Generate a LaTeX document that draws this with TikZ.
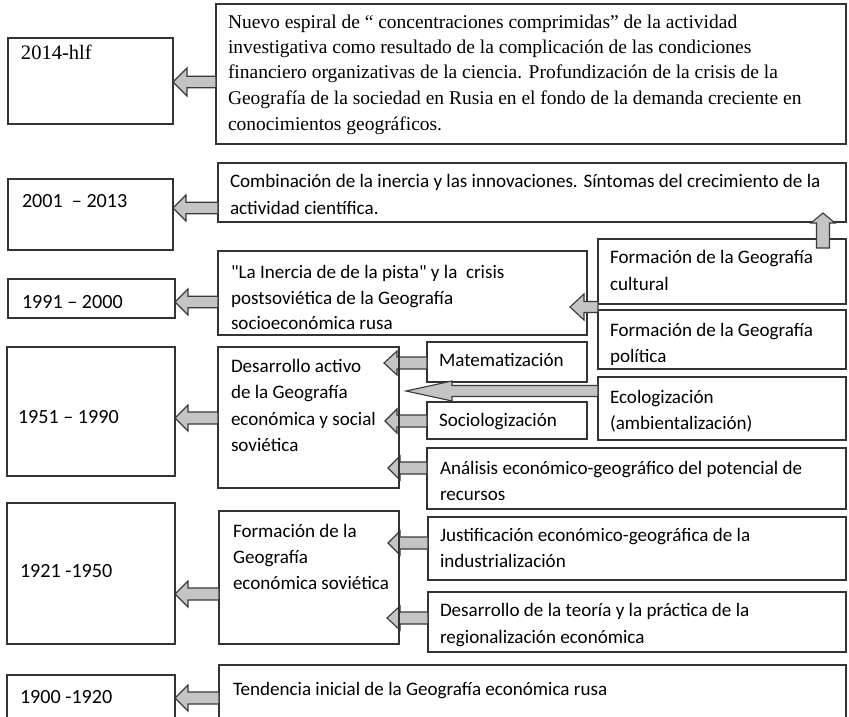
\documentclass[tikz,border=0pt]{standalone}
\usepackage{fontspec}
\setmainfont{Liberation Serif}
\newfontfamily\calfont{Carlito}
\usetikzlibrary{calc}
\definecolor{ln}{HTML}{333333}
\definecolor{af}{HTML}{C4C4C4}
\definecolor{al}{HTML}{3A3A3A}
\tikzset{
  box/.style={draw=ln, line width=0.9pt, inner sep=0pt, outer sep=0pt, fill=white},
  txt/.style={anchor=base west, inner sep=0pt, outer sep=0pt, text=black, font=\calfont\fontsize{14.3}{17}\selectfont},
  txty/.style={anchor=base west, inner sep=0pt, outer sep=0pt, text=black, font=\calfont\fontsize{15.1}{18}\selectfont},
  txtr/.style={anchor=base west, inner sep=0pt, outer sep=0pt, text=black, font=\fontsize{14.6}{17}\selectfont},
  barrow/.style={draw=al, fill=af, line width=0.85pt, line join=miter},
  edge/.style={draw=ln, line width=0.9pt}
}
\newcommand{\bx}[5]{\node[box, minimum width={(#4-#2)*0.75pt}, minimum height={(#5-#3)*0.75pt}] (#1) at ({(#2+#4)/2},{(#3+#5)/2}) {};}
\newcommand{\tl}[4]{\node[txt] (#1) at (#2,#3) {#4};}
\newcommand{\ty}[4]{\node[txty] (#1) at (#2,#3) {#4};}
\newcommand{\tr}[4]{\node[txtr] (#1) at (#2,#3) {#4};}
% left arrow: tip x from node #1, tail x from node #2, y in px #3, head length #4, head half #5, shaft half #6 ; tip offset #7 px
\newcommand{\larr}[7]{%
\draw[barrow] let \p1=(#1), \p2=(#2), \p3=(0,#3) in
 (\x1-#7*0.75pt,\y3) -- (\x1-#7*0.75pt+#4*0.75pt,\y3+#5*0.75pt) -- (\x1-#7*0.75pt+#4*0.75pt,\y3+#6*0.75pt)
 -- (\x2,\y3+#6*0.75pt) -- (\x2,\y3-#6*0.75pt) -- (\x1-#7*0.75pt+#4*0.75pt,\y3-#6*0.75pt)
 -- (\x1-#7*0.75pt+#4*0.75pt,\y3-#5*0.75pt) -- cycle;}
\begin{document}
\begin{tikzpicture}[x=0.75pt,y=-0.75pt]
\useasboundingbox (0,0) rectangle (849,717);
\clip (0,0) rectangle (849,717);
% boxes
\bx{y2014}{8}{38}{173}{124}
\bx{top}{216}{4}{846}{144}
\bx{y2001}{8}{179}{173}{250}
\bx{comb}{218}{163}{846}{222}
\bx{y1991}{8}{279}{175}{318}
\bx{iner}{218}{251}{587}{335}
\bx{cult}{598}{239}{846}{304}
\bx{pol}{598}{310}{846}{369}
\bx{eco}{598}{377}{846}{440}
\bx{mat}{427}{342}{587}{382}
\bx{soc}{427}{402}{587}{439}
\bx{y1951}{7}{347}{175}{476}
\bx{desa}{218}{347}{399}{488}
\bx{anal}{427}{448}{846}{509}
\bx{y1921}{7}{503}{175}{644}
\bx{sov}{219}{511}{399}{644}
\bx{just}{428}{517}{846}{580}
\bx{teor}{428}{592}{846}{652}
\bx{y1900}{7}{675}{175}{740}
\bx{tend}{219}{665}{846}{740}
% texts
\node[txtr, font=\fontsize{15.4}{18}\selectfont] (t2014) at (21,60) {2014-hlf};
\tr{top1}{228}{29}{Nuevo espiral de “ concentraciones comprimidas” de la actividad}
\tr{top2}{228}{54}{investigativa como resultado de la complicación de las condiciones}
\tr{top3}{228}{79}{financiero organizativas de la ciencia. Profundización de la crisis de la}
\tr{top4}{228}{104}{Geografía de la sociedad en Rusia en el fondo de la demanda creciente en}
\tr{top5}{228}{130}{conocimientos geográficos.}
\ty{t2001}{22}{207}{2001\ \ – 2013}
\tl{comb1}{230}{187}{Combinación de la inercia y las innovaciones. Síntomas del crecimiento de la}
\tl{comb2}{230}{214}{actividad científica.}
\ty{t1991}{22}{308}{1991 – 2000}
\tl{iner1}{231}{278}{"La Inercia de de la pista" y la\ \ crisis}
\tl{iner2}{231}{304}{postsoviética de la Geografía}
\tl{iner3}{231}{329}{socioeconómica rusa}
\tl{cult1}{610}{263}{Formación de la Geografía}
\tl{cult2}{610}{290}{cultural}
\tl{pol1}{610}{336}{Formación de la Geografía}
\tl{pol2}{610}{362}{política}
\tl{eco1}{610}{403}{Ecologización}
\tl{eco2}{610}{429}{(ambientalización)}
\tl{mat1}{439}{366}{Matematización}
\tl{soc1}{439}{426}{Sociologización}
\ty{t1951}{18}{423}{1951 – 1990}
\tl{desa1}{231}{372}{Desarrollo activo}
\tl{desa2}{231}{398}{de la Geografía}
\tl{desa3}{231}{425}{económica y social}
\tl{desa4}{231}{451}{soviética}
\tl{anal1}{440}{474}{Análisis económico-geográfico del potencial de}
\tl{anal2}{440}{500}{recursos}
\ty{t1921}{20}{577}{1921 -1950}
\tl{sov1}{233}{537}{Formación de la}
\tl{sov2}{233}{563}{Geografía}
\tl{sov3}{233}{589}{económica soviética}
\tl{just1}{440}{541}{Justificación económico-geográfica de la}
\tl{just2}{440}{567}{industrialización}
\tl{teor1}{440}{616}{Desarrollo de la teoría y la práctica de la}
\tl{teor2}{440}{643}{regionalización económica}
\ty{t1900}{20}{703}{1900 -1920}
\tl{tend1}{233}{695}{Tendencia inicial de la Geografía económica rusa}
% arrows
\larr{y2014.east}{top.west}{82}{14}{14}{5.8}{0}
\larr{y2001.east}{comb.west}{208}{13}{13}{5.8}{0}
\larr{y1991.east}{iner.west}{302}{13}{13}{5.8}{0}
\larr{y1951.east}{desa.west}{418}{13}{13}{6}{0}
\larr{y1921.east}{sov.west}{594}{13}{13}{6}{0}
\larr{y1900.east}{tend.west}{698}{13}{13}{6}{0}
\larr{desa.east}{mat.west}{363}{13}{12}{6}{15}
\larr{desa.east}{soc.west}{421}{12}{12}{6}{14}
\larr{desa.east}{anal.west}{468}{12}{12}{6}{11}
\larr{sov.east}{just.west}{543}{12}{12}{6}{11}
\larr{sov.east}{teor.west}{618}{13}{12}{6}{12}
\larr{desa.east}{eco.west}{391}{46}{10}{5.5}{-7}
\larr{iner.east}{cult.south west}{307}{14}{13}{5.5}{17}
\draw[barrow] let \p1=(comb.south), \p2=(cult.north), \p3=(823,0) in
 (\x3,\y1+9*0.75pt) -- (\x3+12*0.75pt,\y1-1*0.75pt) -- (\x3+6.5*0.75pt,\y1-1*0.75pt)
 -- (\x3+6.5*0.75pt,\y2-9*0.75pt) -- (\x3-6.5*0.75pt,\y2-9*0.75pt) -- (\x3-6.5*0.75pt,\y1-1*0.75pt)
 -- (\x3-12*0.75pt,\y1-1*0.75pt) -- cycle;
% box edges crossing arrows
\draw[edge] (desa.north east) -- (desa.south east);
\draw[edge] (sov.north east) -- (sov.south east);
\end{tikzpicture}
\end{document}
